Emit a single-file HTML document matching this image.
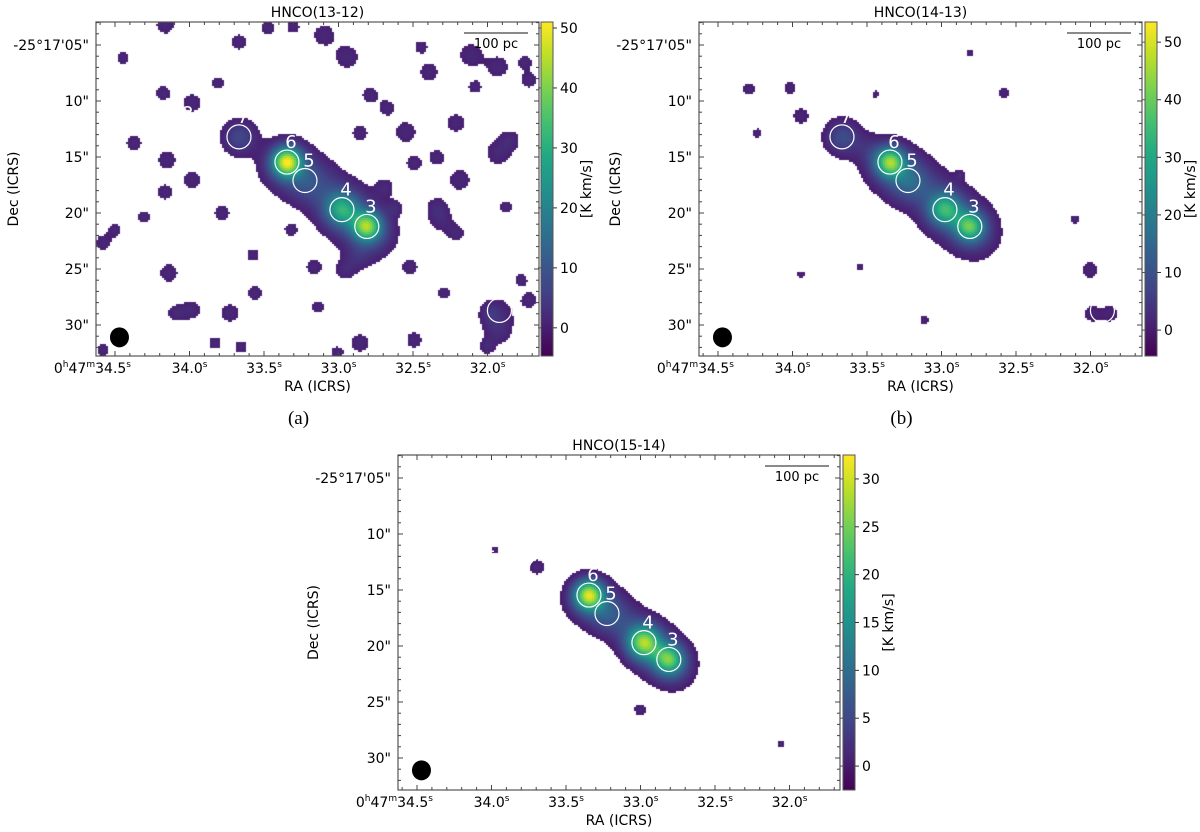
<!DOCTYPE html>
<html><head><meta charset="utf-8">
<style>
body{margin:0;background:#fff;}
#root{position:relative;width:1200px;height:832px;overflow:hidden;background:#fff;}
canvas{position:absolute;}
svg{position:absolute;left:0;top:0;}
text{font-family:"DejaVu Sans","Liberation Sans",sans-serif;}
</style></head>
<body>
<div id="root">
<canvas id="cv-a" style="left:96px;top:22px" width="443" height="334"></canvas>
<canvas id="cv-b" style="left:699px;top:22px" width="443" height="334"></canvas>
<canvas id="cv-c" style="left:398px;top:455px" width="442" height="335"></canvas>
<svg id="svg" width="1200" height="832"></svg>
</div>
<script>
// ---- data ----
const srcIds=['1','2','3','4','5','6','7'];
const srcRA=[31.92,34.037,32.81,32.977,33.225,33.346,33.668];
const srcDec=[28.7,12.86,21.2,19.7,17.1,15.45,13.2];
const peakSig=[0.9,0.9,0.9,1.0,1.2,0.9,1.0];
const peakA=[0,0,36,24,4,46,4];
const peakB=[0,0,32,28,10,40,6];
const peakC=[0,0,19,23,4,27,0];
const ridgeRA=[33.36,33.2,33.06,32.95,32.82,32.76,33.66,33.5];
const ridgeDec=[15.8,17.0,18.4,19.8,21.2,22.2,13.3,14.3];
const ridgeSig=[1.55,1.5,1.4,1.6,1.6,1.3,1.05,0.9];
const ridgeAmpA=[6,6,5,6,6,4,5,0];
const ridgeAmpB=[6,6,5,6,6,4,5,4];
const ridgeAmpC=[5,4,3,5,5,3,0,0];
const blobARA=[34.164,33.473,33.305,33.097,32.943,33.668,34.446,33.809,34.178,33.983,32.789,32.393,32.111,31.930,31.721,31.748,32.547,31.849,31.930,32.339,32.185,32.493,32.339,32.312,32.211,32.621,32.520,32.956,33.164,32.869,31.775,31.983,31.721,32.493,32.856,33.010,32.003,32.292,33.138,33.560,33.728,33.829,34.091,33.983,34.138,34.581,34.305,34.5,33.782,33.983,34.164,34.151,34.372,33.654,34.581,32.674,32.856,32.084,32.211,31.876,32.688,33.574,33.319,32.446,31.93,31.93];
const blobADec=[3.21,3.48,3.39,4.11,6.07,4.73,6.16,8.39,9.29,10.18,9.46,7.41,5.89,6.96,8.13,6.52,12.77,13.48,14.64,15.0,17.05,15.54,19.46,20.63,21.79,19.55,24.82,25.09,24.82,23.93,25.98,28.93,27.77,31.34,31.61,32.5,31.96,27.14,28.39,27.14,28.93,31.61,28.93,28.66,25.36,22.68,20.36,21.52,20.0,17.05,18.13,15.27,13.75,31.96,32.23,10.63,12.86,8.75,11.96,19.46,17.68,23.75,21.52,5.18,29.0,30.6];
const blobASig=[0.7,0.5,0.5,0.8,0.9,0.6,0.5,0.5,0.6,0.7,0.6,0.7,0.9,0.8,0.6,0.5,0.8,0.7,0.9,0.6,0.8,0.6,0.7,0.8,0.6,0.5,0.6,0.7,0.6,0.8,0.5,0.6,0.6,0.6,0.7,0.5,0.5,0.5,0.5,0.6,0.7,0.5,0.6,0.7,0.7,0.6,0.5,0.5,0.6,0.7,0.6,0.7,0.6,0.5,0.5,0.6,0.6,0.5,0.7,0.5,0.6,0.5,0.5,0.5,1.1,0.9];
const blobBRA=[34.292,34.017,33.943,34.238,33.440,32.581,32.809,31.99,31.87,32.003,33.117,32.876,33.547,33.943,32.104];
const blobBDec=[8.93,8.84,11.34,12.86,9.38,9.29,5.71,29.0,29.0,25.09,29.55,16.6,24.8,25.5,20.6];
const blobBSig=[0.5,0.5,0.6,0.35,0.3,0.45,0.3,0.6,0.6,0.65,0.35,0.3,0.3,0.3,0.35];
const blobCRA=[33.695,33.003,32.057,33.977];
const blobCDec=[12.95,25.7,28.75,11.43];
const blobCSig=[0.6,0.45,0.3,0.25];
const raTicks=[34.5,34.0,33.5,33.0,32.5,32.0];
const raTickLabels=['34.5','34.0','33.5','33.0','32.5','32.0'];
const decTicks=[5,10,15,20,25,30];
const decTickLabels=['-25°17\'05"','10"','15"','20"','25"','30"'];
const cbTicksA=[0,10,20,30,40,50];
const cbTicksB=[0,10,20,30,40,50];
const cbTicksC=[0,5,10,15,20,25,30];

// ---- layout ----
const panels=[
 {key:'a',title:'HNCO(13-12)',L:96,T:22,W:443,H:334,cbL:541,vmin:-4.7,vmax:51,peak:peakA,ridge:ridgeAmpA,bra:blobARA,bdec:blobADec,bsig:blobASig,cbt:cbTicksA,decLabX:14,cap:'(a)'},
 {key:'b',title:'HNCO(14-13)',L:699,T:22,W:443,H:334,cbL:1145,vmin:-4.5,vmax:53.5,peak:peakB,ridge:ridgeAmpB,bra:blobBRA,bdec:blobBDec,bsig:blobBSig,cbt:cbTicksB,decLabX:616,cap:'(b)'},
 {key:'c',title:'HNCO(15-14)',L:398,T:455,W:442,H:335,cbL:843,vmin:-2.5,vmax:32.5,peak:peakC,ridge:ridgeAmpC,bra:blobCRA,bdec:blobCDec,bsig:blobCSig,cbt:cbTicksC,decLabX:314,cap:null}
];
const PXS=149, PXA=11.2;
const vir=[[68,1,84],[72,36,117],[65,68,135],[53,95,141],[42,120,142],[33,145,140],[34,168,132],[68,191,112],[122,209,81],[189,223,38],[253,231,37]];
function viridis(t){t=Math.max(0,Math.min(1,t));const s=t*10,i=Math.min(9,Math.floor(s)),f=s-i;const a=vir[i],b=vir[i+1];return [a[0]+(b[0]-a[0])*f,a[1]+(b[1]-a[1])*f,a[2]+(b[2]-a[2])*f];}
const NS='http://www.w3.org/2000/svg';
const svg=document.getElementById('svg');
function mk(tag,attrs,parent){const e=document.createElementNS(NS,tag);for(const k in attrs)e.setAttribute(k,attrs[k]);(parent||svg).appendChild(e);return e;}

panels.forEach(p=>{
 const xOf=ra=>p.L+19+(34.5-ra)*PXS;
 const yOf=dec=>p.T+23+(dec-5)*PXA;
 const comps=[];
 srcRA.forEach((r,i)=>{if(p.peak[i]>0)comps.push([r,srcDec[i],p.peak[i],peakSig[i]]);});
 ridgeRA.forEach((r,i)=>{if(p.ridge[i]>0)comps.push([r,ridgeDec[i],p.ridge[i],ridgeSig[i]]);});
 p.bra.forEach((r,i)=>comps.push([r,p.bdec[i],3.5,p.bsig[i]]));
 const cv=document.getElementById('cv-'+p.key),ctx=cv.getContext('2d');
 const img=ctx.createImageData(p.W,p.H);const C=2;
 for(let cy=0;cy<p.H;cy+=C)for(let cx=0;cx<p.W;cx+=C){
   const px=p.L+cx+1,py=p.T+cy+1;
   let f=0;
   for(const c of comps){const dx=(px-xOf(c[0]))/PXA,dy=(py-yOf(c[1]))/PXA;const d2=dx*dx+dy*dy;if(d2<25*c[3]*c[3])f+=c[2]*Math.exp(-d2/(2*c[3]*c[3]));}
   if(f>2){const v=f-2;const col=viridis((v-p.vmin)/(p.vmax-p.vmin));
     for(let yy=cy;yy<Math.min(cy+C,p.H);yy++)for(let xx=cx;xx<Math.min(cx+C,p.W);xx++){const k=(yy*p.W+xx)*4;img.data[k]=col[0];img.data[k+1]=col[1];img.data[k+2]=col[2];img.data[k+3]=255;}}
 }
 ctx.putImageData(img,0,0);

 const g=mk('g',{});
 
 
 const clip=mk('clipPath',{id:'clip-'+p.key},g);
 mk('rect',{x:p.L,y:p.T,width:p.W,height:p.H},clip);
 const cg=mk('g',{'clip-path':'url(#clip-'+p.key+')'},g);
 srcIds.forEach((id,i)=>{
   const x=xOf(srcRA[i]),y=yOf(srcDec[i]);
   const c=mk('circle',{cx:x,cy:y,r:12,fill:'none',stroke:'#fff','stroke-width':1.2},cg);
   
   
   const t=mk('text',{x:x+4,y:y-14,'text-anchor':'middle','font-size':18,fill:'#fff'},cg);t.textContent=id;
   
   
 });
 const beam=mk('ellipse',{cx:xOf(34.47),cy:yOf(31.1),rx:9.5,ry:10,fill:'#000'},cg);
 
 
 const sbR=p.L+p.W-11,sbL=sbR-64;
 const sb=mk('line',{x1:sbL,x2:sbR,y1:p.T+11,y2:p.T+11,stroke:'#444','stroke-width':1.3},g);
 
 
 const sbt=mk('text',{x:(sbL+sbR)/2,y:p.T+26,'text-anchor':'middle','font-size':13},g);sbt.textContent='100 pc';
 
 
 const fr=mk('rect',{x:p.L,y:p.T,width:p.W,height:p.H,fill:'none',stroke:'#555','stroke-width':1.2},g);
 
 
 for(let r=34.6;r>=31.65;r-=0.1){const x=xOf(r);if(x<p.L||x>p.L+p.W)continue;
   const maj=raTicks.some(v=>Math.abs(v-r)<0.01);const len=maj?5:3;
   mk('line',{x1:x,x2:x,y1:p.T+p.H,y2:p.T+p.H-len,stroke:'#444','stroke-width':1},g);
   mk('line',{x1:x,x2:x,y1:p.T,y2:p.T+len,stroke:'#444','stroke-width':1},g);}
 raTicks.forEach((r,i)=>{
   const t=mk('text',{x:xOf(r),y:p.T+p.H+17,'text-anchor':'middle','font-size':14},g);
   
   
   if(i===0){t.innerHTML='0<tspan dy="-6" font-size="9">h</tspan><tspan dy="6">47</tspan><tspan dy="-6" font-size="9">m</tspan><tspan dy="6">'+raTickLabels[i]+'</tspan><tspan dy="-6" font-size="9">s</tspan>';t.setAttribute('text-anchor','end');t.setAttribute('x',xOf(r)+16);}
   else t.innerHTML=raTickLabels[i]+'<tspan dy="-6" font-size="9">s</tspan>';
 });
 for(let d=3;d<=32.8;d+=1){const y=yOf(d);if(y<p.T||y>p.T+p.H)continue;
   const maj=decTicks.includes(d);const len=maj?5:3;
   mk('line',{x1:p.L,x2:p.L+len,y1:y,y2:y,stroke:'#444','stroke-width':1},g);
   mk('line',{x1:p.L+p.W,x2:p.L+p.W-len,y1:y,y2:y,stroke:'#444','stroke-width':1},g);}
 decTicks.forEach((d,i)=>{
   const t=mk('text',{x:p.L-7,y:yOf(d)+5,'text-anchor':'end','font-size':14},g);t.textContent=decTickLabels[i];
   
   
 });
 const cx=p.L+p.W/2;
 const xl=mk('text',{x:cx,y:p.T+p.H+35,'text-anchor':'middle','font-size':14},g);xl.textContent='RA (ICRS)';
 
 
 const yc=p.T+p.H/2;
 const yl=mk('text',{x:p.decLabX,y:yc,'text-anchor':'middle','font-size':14,transform:'rotate(-90 '+p.decLabX+' '+yc+')','dominant-baseline':'middle'},g);yl.textContent='Dec (ICRS)';
 
 
 const ti=mk('text',{x:cx,y:p.T-5,'text-anchor':'middle','font-size':14},g);ti.textContent=p.title;
 
 
 if(p.cap){const cp=mk('text',{x:cx-19,y:424,'text-anchor':'middle','font-size':19,style:'font-family:"Liberation Serif",serif'},g);cp.textContent=p.cap;
   
   }
 const gid='grad-'+p.key;
 const lg=mk('linearGradient',{id:gid,x1:0,y1:1,x2:0,y2:0},g);
 for(let k=0;k<=10;k++){const c=vir[k];mk('stop',{offset:k/10,'stop-color':'rgb('+c.join(',')+')'},lg);}
 const cb=mk('rect',{x:p.cbL,y:p.T,width:12,height:p.H,fill:'url(#'+gid+')',stroke:'#555','stroke-width':1},g);
 
 
 const cyOf=v=>p.T+p.H-(v-p.vmin)/(p.vmax-p.vmin)*p.H;
 p.cbt.forEach(v=>{const y=cyOf(v);
   mk('line',{x1:p.cbL+12,x2:p.cbL+16,y1:y,y2:y,stroke:'#333','stroke-width':1},g);
   mk('line',{x1:p.cbL,x2:p.cbL-3,y1:y,y2:y,stroke:'#555','stroke-width':1},g);
   const t=mk('text',{x:p.cbL+19,y:y+5,'font-size':14},g);t.textContent=v;
   
   });
 const lx=p.cbL+46;
 const cl=mk('text',{x:lx,y:yc,'text-anchor':'middle','font-size':14,transform:'rotate(-90 '+lx+' '+yc+')','dominant-baseline':'middle'},g);cl.textContent='[K km/s]';
 
 
});
</script>
</body></html>
